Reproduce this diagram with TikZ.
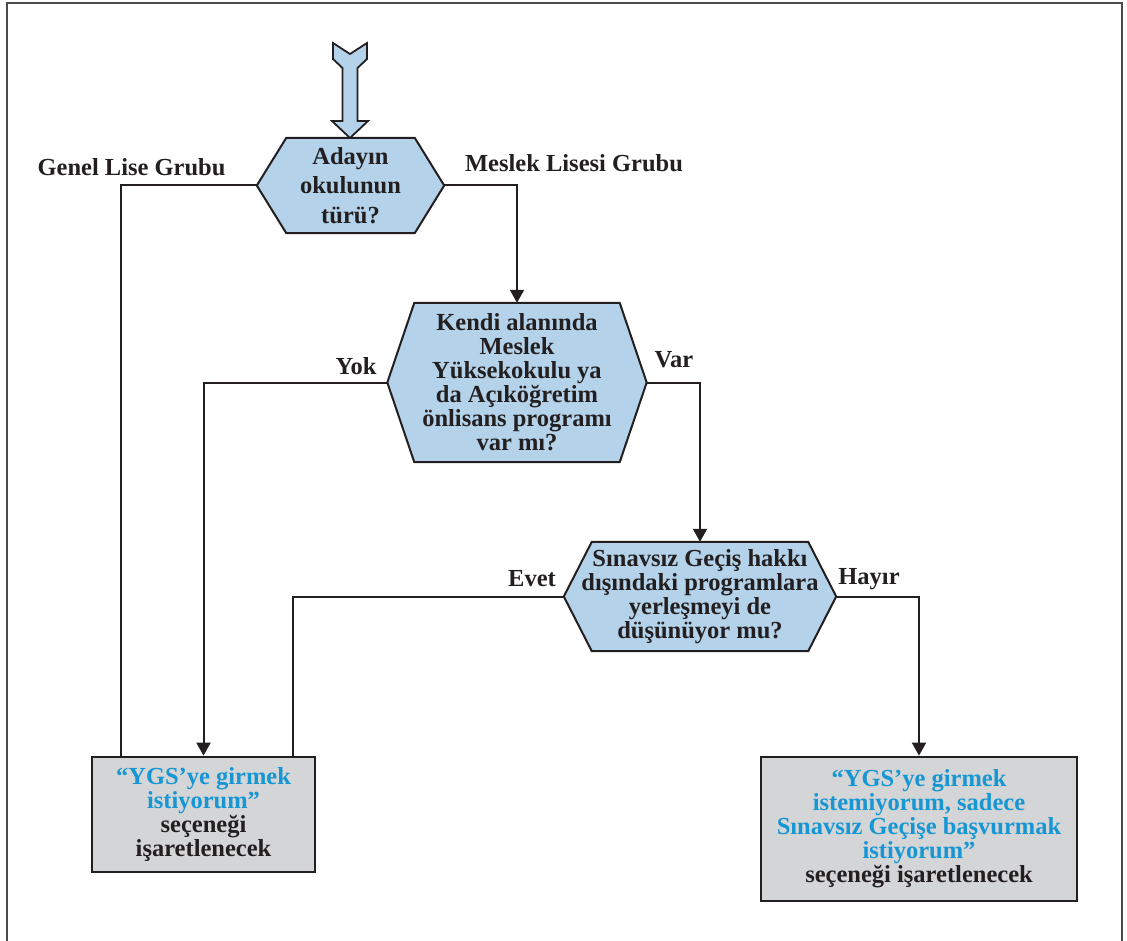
\documentclass[tikz,border=0pt]{standalone}
\usepackage{fontspec}
\setmainfont{Liberation Serif}
\usetikzlibrary{arrows.meta,backgrounds}

\definecolor{DecisionFill}{RGB}{180,210,233}
\definecolor{ResultFill}{RGB}{212,213,215}
\definecolor{ChoiceText}{RGB}{22,150,210}
\definecolor{LineColor}{RGB}{35,31,32}
\definecolor{FrameColor}{RGB}{75,75,75}

\tikzset{
    decision/.style={align=center, inner sep=0pt, text=LineColor},
    result/.style={draw=LineColor, line width=2.8pt, fill=ResultFill, align=center, inner sep=0pt, text=LineColor},
    branch/.style={text=LineColor, inner sep=0pt},
    connector/.style={draw=LineColor, line width=2pt},
    arrowed/.style={connector, -{Triangle[length=13pt,width=14pt]}},
}

% hexagon behind a decision node: node name, corner inset
\newcommand{\hexshape}[2]{%
    \filldraw[DecisionFill, draw=LineColor, line width=2pt, line join=miter]
        (#1.west) -- ([xshift=#2]#1.north west) -- ([xshift=-#2]#1.north east)
        -- (#1.east) -- ([xshift=-#2]#1.south east) -- ([xshift=#2]#1.south west) -- cycle;
}

\begin{document}
\begin{tikzpicture}[x=1pt, y=-1pt, font=\bfseries\fontsize{24.5}{24}\selectfont]

    \useasboundingbox (0,0) rectangle (1127,941);
    \draw[FrameColor, line width=2pt] (7,941) -- (7,3) -- (1122,3) -- (1122,941);

    % entry arrow
    \filldraw[DecisionFill, draw=LineColor, line width=1.8pt, line join=miter]
        (333,43) -- (350,54) -- (367,43) -- (367,59) -- (357.5,68) -- (357.5,121)
        -- (368,121) -- (350,138) -- (332,121) -- (342.5,121) -- (342.5,68)
        -- (333,59) -- cycle;

    \node[decision, minimum width=187pt, minimum height=95pt,
          font=\bfseries\fontsize{24.5}{29.5}\selectfont] (school) at (350.5,185.5)
        {Adayın\\okulunun\\türü?};
    \node[decision, minimum width=259pt, minimum height=159pt] (program) at (517,382.5)
        {Kendi alanında\\Meslek\\Yüksekokulu ya\\da Açıköğretim\\önlisans programı\\var mı?};
    \node[decision, minimum width=272pt, minimum height=109pt] (other) at (700,596.5)
        {Sınavsız Geçiş hakkı\\dışındaki programlara\\yerleşmeyi de\\düşünüyor mu?};

    \begin{scope}[on background layer]
        \hexshape{school}{29.5pt}
        \hexshape{program}{27pt}
        \hexshape{other}{28pt}
    \end{scope}

    \node[result, minimum width=223pt, minimum height=115pt] (ygs) at (203.5,814.5)
        {\textcolor{ChoiceText}{“YGS’ye girmek}\\\textcolor{ChoiceText}{istiyorum”}\\seçeneği\\işaretlenecek};
    \node[result, minimum width=316pt, minimum height=144pt] (direct) at (919,829)
        {\textcolor{ChoiceText}{“YGS’ye girmek}\\\textcolor{ChoiceText}{istemiyorum, sadece}\\\textcolor{ChoiceText}{Sınavsız Geçişe başvurmak}\\\textcolor{ChoiceText}{istiyorum”}\\seçeneği işaretlenecek};

    \node[branch] (general) at (131.5,167) {Genel Lise Grubu};
    \node[branch] (vocational) at (574,163) {Meslek Lisesi Grubu};
    \node[branch] (none) at (356,366) {Yok};
    \node[branch] (exists) at (674,360) {Var};
    \node[branch] (yes) at (532,579) {Evet};
    \node[branch] (no) at (869,579) {Hayır};

    \draw[connector] (school.west) -| ([xshift=-82.5pt]ygs.north);
    \draw[arrowed] (school.east) -| (program.north);
    \draw[arrowed] (program.west) -| (ygs.north);
    \draw[arrowed] (program.east) -| (other.north);
    \draw[connector] (other.west) -| ([xshift=89.5pt]ygs.north);
    \draw[arrowed] (other.east) -| (direct.north);
\end{tikzpicture}
\end{document}
